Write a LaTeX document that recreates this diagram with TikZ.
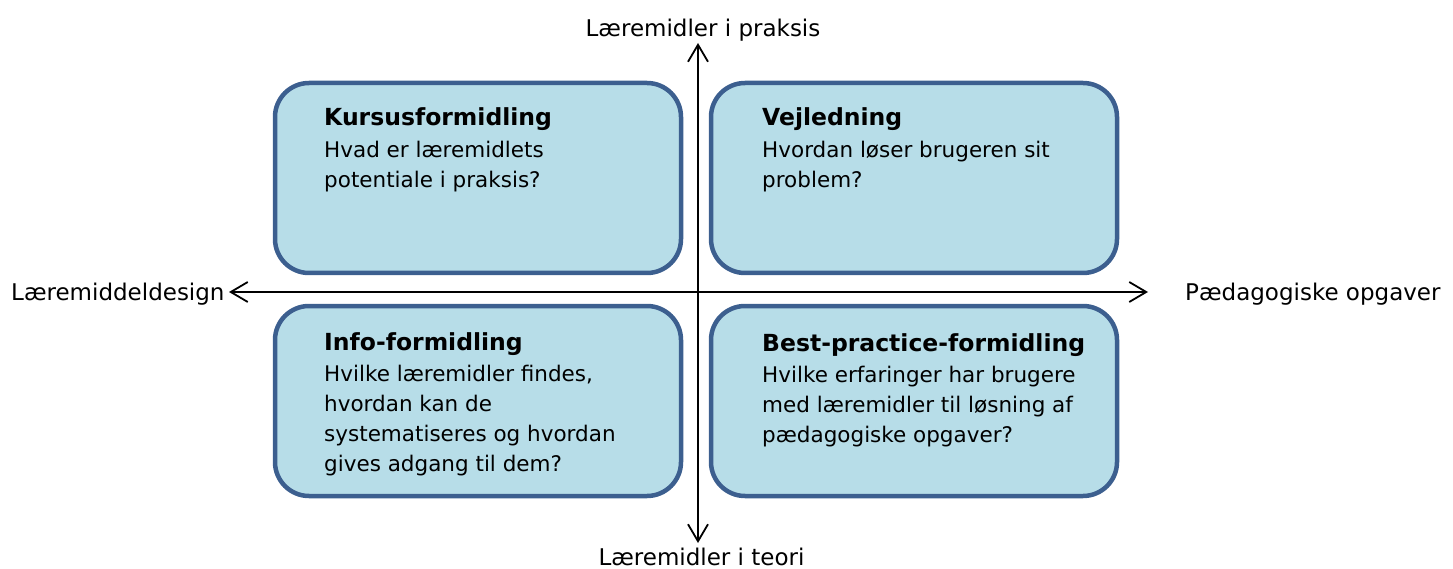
\documentclass[tikz,border=0pt]{standalone}
\usepackage{fontspec}
\setmainfont{DejaVu Sans}
\usetikzlibrary{arrows.meta}
\definecolor{boxfill}{HTML}{B7DDE8}
\definecolor{boxline}{HTML}{3C5F8F}
\newcommand{\quadtitle}[1]{\strut{\fontsize{23.5}{30}\selectfont\bfseries #1}}
\tikzset{
  quad/.style={draw=boxline, line width=4.5pt, fill=boxfill, rounded corners=34pt,
    minimum width=406pt, minimum height=190pt, inner sep=0pt},
  txt/.style={anchor=north west, align=left, inner sep=0pt,
    font=\fontsize{21.5}{30}\selectfont},
  axis/.style={line width=1.8pt, {Straight Barb[length=17pt,width=20pt,line width=1.8pt]}-{Straight Barb[length=17pt,width=20pt,line width=1.8pt]}},
  lbl/.style={inner sep=0pt, anchor=base, font=\fontsize{23}{26}\selectfont}
}
\begin{document}
\begin{tikzpicture}[x=1pt,y=-1pt]
\useasboundingbox (0,0) rectangle (1453,569);
% boxes
\node[quad] (kf) at (478,178) {};
\node[quad] (vj) at (914,178) {};
\node[quad] (if) at (478,401) {};
\node[quad] (bp) at (914,401) {};
% texts
\node[txt] (kft) at (324,104) {\quadtitle{Kursusformidling}\\[2pt]Hvad er læremidlets\\potentiale i praksis?};
\node[txt] (vjt) at (762,104) {\quadtitle{Vejledning}\\[2pt]Hvordan løser brugeren sit\\problem?};
\node[txt] (ift) at (324,329) {\quadtitle{Info-formidling}\\[1pt]Hvilke læremidler findes,\\hvordan kan de\\systematiseres og hvordan\\gives adgang til dem?};
\node[txt] (bpt) at (762,330) {\quadtitle{Best-practice-formidling}\\[1pt]Hvilke erfaringer har brugere\\med læremidler til løsning af\\pædagogiske opgaver?};
% axes
\coordinate (top) at (698,43);
\coordinate (bot) at (698,543);
\coordinate (lft) at (229,292);
\coordinate (rgt) at (1148,292);
\draw[axis] (bot) -- (top);
\draw[axis] (lft) -- (rgt);
% labels
\node[lbl] (lp) at (703,37) {Læremidler i praksis};
\node[lbl] (lt) at (701.5,565) {Læremidler i teori};
\node[lbl, anchor=base west] (ld) at (11,300) {Læremiddeldesign};
\node[lbl, anchor=base west] (po) at (1185,300) {Pædagogiske opgaver};
\end{tikzpicture}
\end{document}
